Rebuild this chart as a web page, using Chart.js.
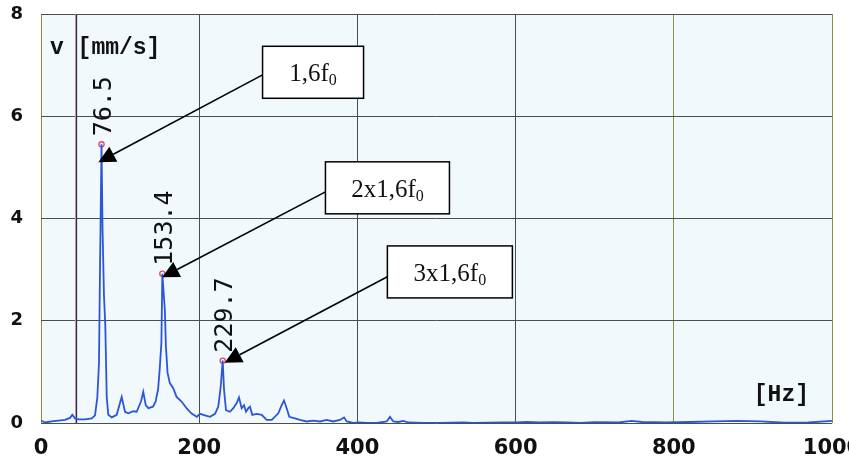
<!DOCTYPE html>
<html>
<head>
<meta charset="utf-8">
<script src="https://cdn.jsdelivr.net/npm/chart.js@4.4.1/dist/chart.umd.min.js"></script>
<style>
  html, body { margin: 0; padding: 0; background: #fff; }
  #wrap { width: 849px; height: 462px; }
</style>
</head>
<body>
<div id="wrap"><canvas id="spectrum" width="849" height="462"></canvas></div>
<script>
// 1. Данные спектра (частота, Гц / скорость, мм/с)
const freqHz = [
  0.9, 5, 13.5, 21.9, 30.3, 36.7, 39.6, 43, 47.2, 55.6, 64.1, 68.3, 71.2, 73.3, 74.6,
  76.5, 77.8, 79.6, 81.3, 83.1, 85.1, 89.4, 95.7, 102, 106.2, 110.4, 116.7, 121, 126.4,
  129.3, 132.4, 135.7, 141.5, 145, 146, 148, 150, 152.2, 153.4, 156.6, 157.9, 160, 162.9,
  167.2, 171.4, 177.7, 184, 190, 197, 201, 207.3, 213.7, 220, 224.1, 227.2, 229.7, 231.4,
  233.9, 238.9, 243.1, 247.4, 250.3, 253.7, 256.6, 259.2, 262.1, 264.2, 267.1, 272.7, 279,
  285.3, 291.7, 300, 304.3, 307.2, 310.6, 313.9, 321.1, 327.4, 335.9, 344.2, 352.7, 361.2,
  369.5, 378, 383.1, 386.5, 394.8, 401.7, 411.8, 424.4, 437, 441.2, 445.4, 451.7, 458,
  464.4, 483.3, 504.4, 533.9, 546.5, 584.4, 601.4, 614, 630.8, 647.7, 664.6, 681.4, 700,
  730, 746.6, 760, 790, 820, 850, 880, 910, 940, 970, 1000
];
const velocity = [
  0.045, 0.01, 0.03, 0.045, 0.06, 0.1, 0.16, 0.09, 0.07, 0.07, 0.09, 0.15, 0.5, 1.17, 3.0,
  5.45, 3.8, 2.5, 1.9, 0.5, 0.16, 0.11, 0.16, 0.51, 0.22, 0.19, 0.23, 0.22, 0.42,
  0.61, 0.35, 0.29, 0.32, 0.42, 0.51, 0.65, 1.04, 1.57, 2.92, 2.2, 1.5, 0.98, 0.78,
  0.68, 0.51, 0.42, 0.29, 0.19, 0.12, 0.18, 0.15, 0.12, 0.18, 0.32, 0.71, 1.22, 0.65,
  0.25, 0.22, 0.29, 0.39, 0.5, 0.29, 0.35, 0.22, 0.29, 0.32, 0.16, 0.18, 0.16,
  0.06, 0.06, 0.19, 0.35, 0.44, 0.29, 0.12, 0.09, 0.06, 0.03, 0.045, 0.03, 0.06,
  0.03, 0.06, 0.11, 0.03, 0.0, 0.01, 0.0, 0.0, 0.03, 0.12, 0.03, 0.02, 0.04,
  0.01, 0.0, 0.0, 0.01, 0.0, 0.01, 0.01, 0.02, 0.01, 0.015, 0.01, 0.0, 0.015,
  0.01, 0.04, 0.02, 0.01, 0.02, 0.03, 0.04, 0.03, 0.005, 0.01, 0.04
];

// Пики с подписями
const peakHz = [76.5, 153.4, 229.7];
const peakVal = [5.45, 2.92, 1.22];
const peakLabels = ['76.5', '153.4', '229.7'];

// Выноски: текст, левый край рамки (Гц, мм/с), начало и конец стрелки
const noteMain = ['1,6f', '2x1,6f', '3x1,6f'];
const noteSub = ['0', '0', '0'];
const noteLeftHz = [280.1, 359.6, 437.9];
const noteMidVal = [6.86, 4.6, 2.955];
const noteWidth = [101, 124, 125];
const arrowFromVal = [6.81, 4.52, 2.86];
const arrowToHz = [72.5, 153.1, 232.2];
const arrowToVal = [5.1, 2.85, 1.18];

// Курсор анализатора
const cursorHz = 44.2;

// Подписи осей
const xTickValues = [0, 200, 400, 600, 800, 1000];
const xTickLabels = ['0', '200', '400', '600', '800', '1000'];
const yTickValues = [0, 2, 4, 6, 8];
const yTickLabels = ['0', '2', '4', '6', '8'];

// 2. Плагины отрисовки
const backgroundPlugin = {
  id: 'bg',
  beforeDraw(chart) {
    const { ctx, chartArea: a } = chart;
    ctx.save();
    ctx.fillStyle = '#f1f9fc';
    ctx.fillRect(a.left, a.top, a.right - a.left, a.bottom - a.top);
    ctx.restore();
  }
};

const cursorPlugin = {
  id: 'cursor',
  beforeDatasetsDraw(chart) {
    const { ctx, chartArea: a, scales } = chart;
    const x = Math.round(scales.x.getPixelForValue(cursorHz)) + 0.5;
    ctx.save();
    ctx.strokeStyle = '#d7a6d8';
    ctx.lineWidth = 1;
    ctx.beginPath(); ctx.moveTo(x - 1, a.top); ctx.lineTo(x - 1, a.bottom); ctx.stroke();
    ctx.strokeStyle = '#2e2e3a';
    ctx.lineWidth = 1.3;
    ctx.beginPath(); ctx.moveTo(x, a.top); ctx.lineTo(x, a.bottom); ctx.stroke();
    ctx.restore();
  }
};

const labelsPlugin = {
  id: 'labels',
  afterDatasetsDraw(chart) {
    const { ctx, chartArea: a, scales } = chart;
    ctx.save();
    ctx.fillStyle = '#111';
    // пиковые частоты (повёрнутый текст)
    ctx.font = '25px "DejaVu Sans Mono"';
    ctx.textAlign = 'left';
    ctx.textBaseline = 'alphabetic';
    peakHz.forEach((hz, i) => {
      const px = scales.x.getPixelForValue(hz);
      const py = scales.y.getPixelForValue(peakVal[i]);
      ctx.save();
      ctx.translate(px + 9.5, py - 8);
      ctx.rotate(-Math.PI / 2);
      ctx.fillText(peakLabels[i], 0, 0);
      ctx.restore();
    });
    // единицы осей
    ctx.font = 'bold 23px "Liberation Mono"';
    ctx.fillText('v [mm/s]', a.left + 9, a.top + 40);
    ctx.textAlign = 'right';
    ctx.fillText('[Hz]', a.right - 23, a.bottom - 22);

    // стрелки
    ctx.strokeStyle = '#000';
    ctx.fillStyle = '#000';
    ctx.lineWidth = 1.6;
    noteMain.forEach((_, i) => {
      const x0 = scales.x.getPixelForValue(noteLeftHz[i]);
      const y0 = scales.y.getPixelForValue(arrowFromVal[i]);
      const x1 = scales.x.getPixelForValue(arrowToHz[i]);
      const y1 = scales.y.getPixelForValue(arrowToVal[i]);
      const ang = Math.atan2(y1 - y0, x1 - x0);
      const len = 17, half = 8.5;
      const bx = x1 - len * Math.cos(ang), by = y1 - len * Math.sin(ang);
      ctx.beginPath(); ctx.moveTo(x0, y0); ctx.lineTo(bx, by); ctx.stroke();
      ctx.beginPath();
      ctx.moveTo(x1, y1);
      ctx.lineTo(bx + half * Math.sin(ang), by - half * Math.cos(ang));
      ctx.lineTo(bx - half * Math.sin(ang), by + half * Math.cos(ang));
      ctx.closePath(); ctx.fill();
    });

    // рамки выносок
    noteMain.forEach((t, i) => {
      const left = scales.x.getPixelForValue(noteLeftHz[i]);
      const mid = scales.y.getPixelForValue(noteMidVal[i]);
      const w = noteWidth[i], h = 52;
      ctx.fillStyle = '#fff';
      ctx.fillRect(left, mid - h / 2, w, h);
      ctx.lineWidth = 1.5;
      ctx.strokeStyle = '#000';
      ctx.strokeRect(left, mid - h / 2, w, h);
      ctx.fillStyle = '#111';
      ctx.font = '25px "Liberation Serif"';
      const mainW = ctx.measureText(t).width;
      ctx.font = '16px "Liberation Serif"';
      const subW = ctx.measureText(noteSub[i]).width;
      const sx = left + (w - mainW - subW) / 2;
      ctx.textAlign = 'left';
      ctx.font = '25px "Liberation Serif"';
      ctx.fillText(t, sx, mid + 9);
      ctx.font = '16px "Liberation Serif"';
      ctx.fillText(noteSub[i], sx + mainW, mid + 13);
    });
    ctx.restore();
  }
};

// 3. График
function gridColor(ctx) {
  const v = ctx.tick ? ctx.tick.value : 0;
  if (ctx.scale.axis === 'x' && (v === 0 || v === 1000 || v === 800)) return '#8c8c48';
  return '#4d4d4d';
}

const points = freqHz.map((f, i) => ({ x: f, y: velocity[i] }));
const peaks = peakHz.map((f, i) => ({ x: f, y: peakVal[i] }));

new Chart(document.getElementById('spectrum').getContext('2d'), {
  type: 'line',
  data: {
    datasets: [
      {
        data: points, borderColor: '#2d55da', borderWidth: 1.8, tension: 0,
        pointRadius: 0, fill: false
      },
      {
        type: 'scatter', data: peaks, pointRadius: 2.6, pointBorderWidth: 1.3,
        pointBorderColor: '#e0476a', pointBackgroundColor: 'rgba(0,0,0,0)'
      }
    ]
  },
  options: {
    responsive: false,
    animation: false,
    layout: { padding: { top: 14, right: 17, left: 0, bottom: 0 } },
    plugins: { legend: { display: false }, tooltip: { enabled: false } },
    scales: {
      x: {
        type: 'linear', min: 0, max: 1000,
        afterBuildTicks: s => { s.ticks = xTickValues.map(v => ({ value: v })); },
        afterFit: s => { s.height = 39; s.paddingLeft = 0; s.paddingRight = 0; },
        border: { display: false },
        grid: { color: gridColor, lineWidth: 1, drawTicks: false },
        ticks: {
          callback: v => xTickLabels[xTickValues.indexOf(v)],
          color: '#111', padding: 13, maxRotation: 0,
          font: { family: 'DejaVu Sans', size: 21, weight: 'bold' }
        }
      },
      y: {
        min: 0, max: 8,
        afterBuildTicks: s => { s.ticks = yTickValues.map(v => ({ value: v })); },
        afterFit: s => { s.width = 41; s.paddingTop = 0; s.paddingBottom = 0; },
        border: { display: false },
        grid: { color: gridColor, lineWidth: 1, drawTicks: false },
        ticks: {
          callback: v => yTickLabels[yTickValues.indexOf(v)],
          color: '#111', padding: 18,
          font: { family: 'DejaVu Sans', size: 18, weight: 'bold' }
        }
      }
    }
  },
  plugins: [backgroundPlugin, cursorPlugin, labelsPlugin]
});
</script>
</body>
</html>
